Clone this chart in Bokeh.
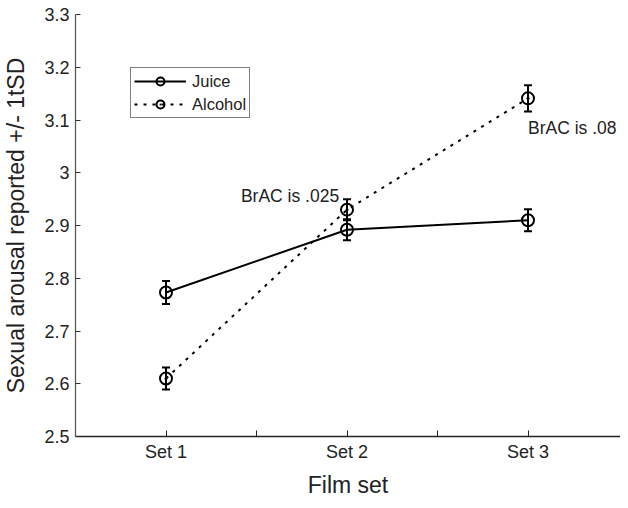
from bokeh.plotting import figure
from bokeh.models import (FixedTicker, Range1d, Legend, LegendItem, ColumnDataSource,
                          Whisker, TeeHead, Label)
from bokeh.embed import file_html
from bokeh.resources import INLINE

# ---- data ----
sets = [1, 2, 3]
set_labels = ["Set 1", "Set 2", "Set 3"]
juice = [2.773, 2.892, 2.910]
juice_sd = [0.022, 0.020, 0.021]
alcohol = [2.610, 2.930, 3.141]
alcohol_sd = [0.021, 0.020, 0.025]
yticks = [2.5, 2.6, 2.7, 2.8, 2.9, 3.0, 3.1, 3.2, 3.3]
ytick_labels = ["2.5", "2.6", "2.7", "2.8", "2.9", "3", "3.1", "3.2", "3.3"]
notes = ["BrAC is .025", "BrAC is .08"]
note_x = [1.414, 3.0]
note_y = [2.956, 3.084]

FONT = "Liberation Sans"

p = figure(width=620, height=500,
           x_range=Range1d(0.5, 3.5 + 2 / 181), y_range=Range1d(2.5, 3.3),
           output_backend="svg", toolbar_location=None,
           min_border_left=75, min_border_right=0, min_border_top=14, min_border_bottom=60)
p.outline_line_color = None
p.grid.visible = False
p.background_fill_color = "white"
p.border_fill_color = "white"

# x axis
xa = p.xaxis[0]
xa.ticker = FixedTicker(ticks=sets, minor_ticks=[1.5, 2.5])
xa.major_label_overrides = {s: l for s, l in zip(sets, set_labels)}
xa.major_tick_in = 6
xa.major_tick_out = 0
xa.minor_tick_in = 6
xa.minor_tick_out = 0
xa.major_label_standoff = 5
xa.major_label_text_font = FONT
xa.major_label_text_font_size = "18px"
xa.major_label_text_color = "#222222"
xa.axis_label = "Film set"
xa.axis_label_text_font = FONT
xa.axis_label_text_font_size = "23px"
xa.axis_label_text_font_style = "normal"
xa.axis_label_text_color = "#222222"
xa.axis_label_standoff = 7
xa.axis_line_color = "#222222"
xa.axis_line_width = 1.3
xa.major_tick_line_color = "#222222"
xa.minor_tick_line_color = "#222222"

# y axis
ya = p.yaxis[0]
ya.ticker = FixedTicker(ticks=yticks, minor_ticks=[])
ya.major_label_overrides = {t: l for t, l in zip(yticks, ytick_labels)}
ya.major_tick_in = 5
ya.major_tick_out = 0
ya.minor_tick_line_color = None
ya.major_label_standoff = 6
ya.major_label_text_font = FONT
ya.major_label_text_font_size = "18px"
ya.major_label_text_color = "#222222"
ya.axis_label = "Sexual arousal reported +/- 1tSD"
ya.axis_label_text_font = FONT
ya.axis_label_text_font_size = "23px"
ya.axis_label_text_font_style = "normal"
ya.axis_label_text_color = "#222222"
ya.axis_label_standoff = 12
ya.axis_line_color = "#5a5a5a"
ya.axis_line_width = 1.3
ya.major_tick_line_color = "#333333"

# error bars
src_j = ColumnDataSource(dict(x=sets, y=juice,
                              lo=[v - e for v, e in zip(juice, juice_sd)],
                              hi=[v + e for v, e in zip(juice, juice_sd)]))
src_a = ColumnDataSource(dict(x=sets, y=alcohol,
                              lo=[v - e for v, e in zip(alcohol, alcohol_sd)],
                              hi=[v + e for v, e in zip(alcohol, alcohol_sd)]))
for src in (src_j, src_a):
    w = Whisker(source=src, base="x", lower="lo", upper="hi", dimension="height",
                line_width=2, line_color="black",
                upper_head=TeeHead(size=8, line_width=2, line_color="black"),
                lower_head=TeeHead(size=8, line_width=2, line_color="black"))
    p.add_layout(w)

jl = p.line("x", "y", source=src_j, line_width=2, line_color="black")
al = p.line("x", "y", source=src_a, line_width=2, line_color="black", line_dash="3 6")
js = p.scatter("x", "y", source=src_j, marker="circle", size=12, fill_color=None,
               line_color="black", line_width=2)
as_ = p.scatter("x", "y", source=src_a, marker="circle_dot", size=12, fill_color=None,
                line_color="black", line_width=2)

for t, x, y in zip(notes, note_x, note_y):
    p.add_layout(Label(x=x, y=y, text=t, text_font=FONT, text_font_size="17.5px",
                       text_color="#222222", text_baseline="middle", text_align="left"))

legend = Legend(items=[LegendItem(label="Juice", renderers=[jl, js]),
                       LegendItem(label="Alcohol", renderers=[al, as_])],
                location=(55, 318), orientation="vertical",
                glyph_width=52, glyph_height=20, label_standoff=6,
                label_text_font=FONT, label_text_font_size="16.5px",
                label_text_color="#222222", label_height=20,
                padding=3, spacing=3, margin=0,
                border_line_color="black", border_line_width=1,
                background_fill_color="white", background_fill_alpha=1.0)
p.add_layout(legend)

open("out.html", "w").write(file_html(p, INLINE))
